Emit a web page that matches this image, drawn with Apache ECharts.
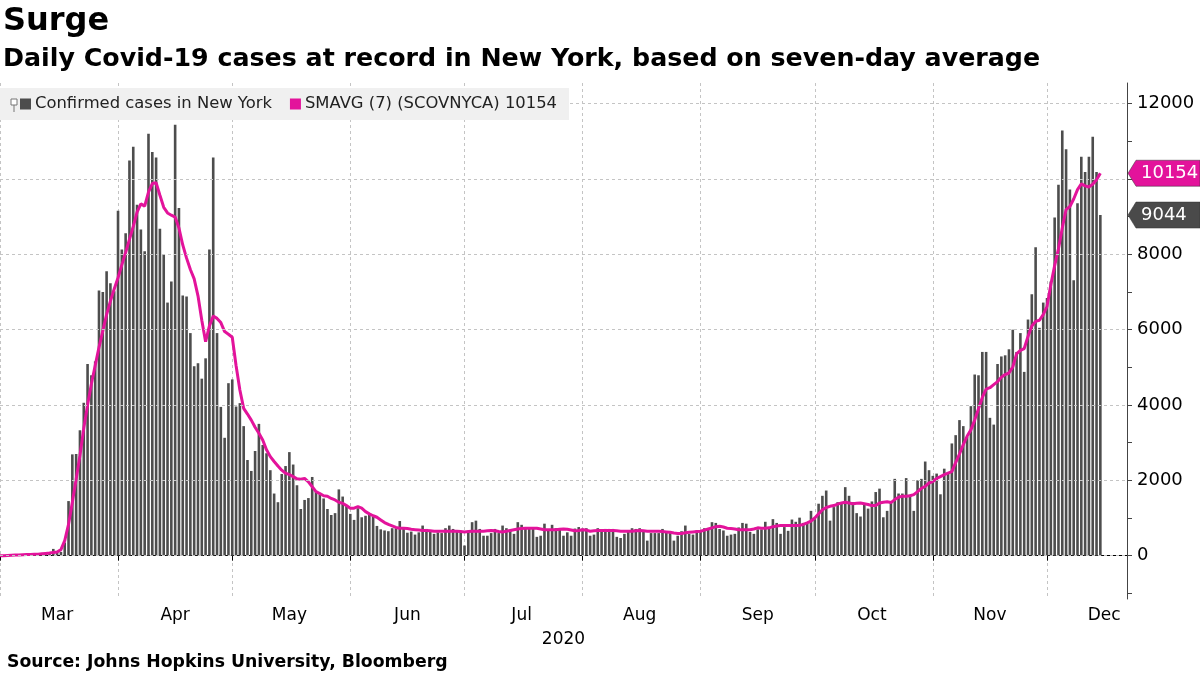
<!DOCTYPE html>
<html>
<head>
<meta charset="utf-8">
<script src="https://cdn.jsdelivr.net/npm/echarts@6/dist/echarts.min.js"></script>
<style>
  html, body { margin: 0; padding: 0; background: #ffffff; }
  #chart { width: 1200px; height: 675px; }
</style>
</head>
<body>
<div id="chart"></div>
<script>
// ---- axis / tick labels ----
const monthNames = ['Mar', 'Apr', 'May', 'Jun', 'Jul', 'Aug', 'Sep', 'Oct', 'Nov', 'Dec'];
const monthDays = [31, 30, 31, 30, 31, 31, 30, 31, 30, 22]; // axis runs Mar 1 .. Dec 22, 2020
const yearLabel = '2020';
const yLabelValues = [0, 2000, 4000, 6000, 8000, 10000, 12000];
const yTickValues = [-1000, 0, 1000, 2000, 3000, 4000, 5000, 6000, 7000, 8000, 9000, 10000, 11000, 12000];

// ---- daily confirmed cases (bars), by month ----
const marCases = [0,0,0,2,5,10,15,20,25,30, 40,60,80,90,180,90,100,350,1450,2690, 2700,3330,4060,5090,4790,5160,7040,7000,7550,7230, 7020];
const aprCases = [9160,8130,8560,10490,10860,9320,8660,8080,11200,10720, 10570,8680,8010,6720,7280,11440,9230,6910,6880,5910, 5030,5110,4700,5240,8130,10570,5910,3950,3130,4580];
const mayCases = [4680,3960,4050,3440,2540,2250,2780,3500,2940,2720, 2270,1650,1420,2170,2380,2750,2420,1870,1240,1480, 1530,2090,1700,1630,1520,1240,1080,1130,1760,1570, 1340];
const junCases = [1110,950,1260,1020,1060,1110,1040,790,700,670, 650,730,730,920,720,610,640,560,620,800, 710,670,580,620,600,730,800,710,670,650];
const julCases = [270,650,890,930,710,530,530,600,710,600, 800,730,670,580,890,820,710,710,710,500, 530,850,690,820,730,710,530,620,530,720, 760];
const augCases = [720,730,530,560,730,690,710,710,710,500, 470,580,670,730,710,730,630,400,600,600, 600,710,650,600,400,530,650,800,580,560, 670];
const sepCases = [670,730,710,890,870,710,670,530,560,580, 750,870,850,630,580,700,700,900,760,970, 870,580,760,660,960,900,1010,870,850,1190];
const octCases = [970,1380,1590,1730,930,1290,1420,1390,1820,1590, 1420,1130,1040,1350,1250,1440,1690,1780,1020,1190, 1440,2040,1650,1650,2060,1620,1190,2000,2040,2500, 2270];
const novCases = [2120,2180,1630,2310,2180,2980,3200,3600,3440,3150, 3970,4810,4790,5410,5410,3660,3480,5090,5290,5320, 5480,6000,5410,5910,4880,6270,6940,8190,6050,6720];
const decCases = [6840,7280,8980,9850,11290,10790,9720,7310,9360,10590, 10190,10590,11120,10190,9044];

// ---- SMAVG (7) line, by month ----
const marAvg = [0,0,5,10,15,20,25,30,30,35, 40,50,60,70,85,100,160,400,830,1420, 2030,2660,3380,4000,4560,5050,5530,5970,6400,6760, 7080];
const aprAvg = [7380,7720,8050,8400,8740,9120,9340,9280,9650,9880, 9900,9570,9250,9100,9040,8990,8700,8250,7900,7600, 7350,6900,6250,5680,6100,6360,6300,6190,5950,5880];
const mayAvg = [5800,5050,4400,3910,3760,3600,3410,3250,3070,2810, 2630,2500,2380,2270,2190,2150,2100,2040,2030,2050, 1960,1830,1700,1650,1590,1580,1520,1480,1420,1390, 1330];
const junAvg = [1260,1260,1300,1260,1170,1110,1060,1020,950,880, 830,790,750,730,730,720,700,690,680,670, 670,660,650,650,650,650,650,650,650,640];
const julAvg = [630,640,650,650,650,650,660,670,660,640, 630,650,670,690,710,720,730,730,730,730, 710,690,690,690,690,700,710,700,680,660, 670];
const augAvg = [690,680,650,660,670,670,670,670,670,660, 650,650,650,650,660,670,660,650,650,650, 650,640,630,620,600,590,590,610,620,630, 640];
const sepAvg = [650,680,710,740,770,780,760,730,720,710, 690,690,690,690,710,740,730,730,740,770, 790,800,800,800,800,800,810,830,870,920];
const octAvg = [1000,1110,1220,1280,1310,1330,1370,1400,1420,1400, 1380,1390,1400,1380,1360,1330,1330,1400,1420,1430, 1410,1490,1550,1580,1580,1590,1620,1700,1790,1840, 1930];
const novAvg = [1970,2050,2100,2150,2190,2230,2470,2700,2950,3170, 3340,3600,3900,4200,4420,4460,4540,4620,4740,4810, 4850,5010,5360,5450,5500,5820,6100,6220,6250,6400];
const decAvg = [6620,7200,7700,8150,8700,9190,9270,9470,9720,9870, 9820,9790,9860,9980,10154];

const lastCases = 9044;
const lastAvg = 10154;

// ---- build the category list (one per day) ----
const categories = [];
const monthOfCat = [];
monthDays.forEach((n, m) => {
  for (let d = 1; d <= n; d++) {
    categories.push('2020-' + String(m + 3).padStart(2, '0') + '-' + String(d).padStart(2, '0'));
    monthOfCat.push(monthNames[m]);
  }
});
const cases = [].concat(marCases, aprCases, mayCases, junCases, julCases, augCases, sepCases, octCases, novCases, decCases);
const avg = [].concat(marAvg, aprAvg, mayAvg, junAvg, julAvg, augAvg, sepAvg, octAvg, novAvg, decAvg);

const FONT = 'DejaVu Sans';
const MAGENTA = '#E3139B';
const BARGREY = '#4d4d4d';
const GRIDC = '#c4c4c4';

const chart = echarts.init(document.getElementById('chart'), null, { renderer: 'canvas' });

const option = {
  animation: false,
  backgroundColor: '#ffffff',
  textStyle: { fontFamily: FONT },
  title: [
    { text: 'Surge', left: 0, top: 4, padding: [2, 3],
      textStyle: { fontFamily: FONT, fontSize: 32, fontWeight: 'bold', color: '#000' } },
    { text: 'Daily Covid-19 cases at record in New York, based on seven-day average', left: 0, top: 45, padding: [2, 3],
      textStyle: { fontFamily: FONT, fontSize: 25.3, fontWeight: 'bold', color: '#000' } }
  ],
  legend: {
    left: 0, top: 88,
    z: 50, zlevel: 1,
    padding: [8, 12, 8, 20],
    backgroundColor: '#f0f0f0',
    itemWidth: 11, itemHeight: 11, itemGap: 18,
    lineStyle: { width: 0, opacity: 0 },
    data: [
      { name: 'Confirmed cases in New York', icon: 'rect', itemStyle: { color: BARGREY } },
      { name: 'SMAVG (7) (SCOVNYCA) ' + lastAvg, icon: 'rect', itemStyle: { color: MAGENTA } }
    ],
    textStyle: { fontFamily: FONT, fontSize: 16.4, color: '#222', padding: [0, 0, 0, -1] },
    selectedMode: false
  },
  grid: { left: 0, right: 73, top: 83, bottom: 76, containLabel: false },
  xAxis: {
    type: 'category',
    data: categories,
    boundaryGap: false,
    axisLine: { show: true, lineStyle: { color: '#000', width: 1 } },
    axisTick: { show: true, length: 5, interval: (i, v) => v.endsWith('-01'), lineStyle: { color: '#000' } },
    axisLabel: {
      interval: (i, v) => v.endsWith('-16'),
      formatter: (v, i) => monthOfCat[i],
      fontFamily: FONT, fontSize: 17, color: '#000', margin: 8
    },
    splitLine: { show: true, interval: (i, v) => v.endsWith('-01'), lineStyle: { color: GRIDC, type: [3, 3], width: 1 } },
    name: yearLabel,
    nameLocation: 'middle',
    nameGap: 32,
    nameTextStyle: { fontFamily: FONT, fontSize: 17, color: '#000' }
  },
  yAxis: {
    type: 'value',
    position: 'right',
    min: -1150,
    max: 12550,
    axisLine: { show: true, lineStyle: { color: '#444', width: 1 } },
    axisTick: { show: true, length: 5, customValues: yTickValues, lineStyle: { color: '#444' } },
    axisLabel: { customValues: yLabelValues, formatter: v => String(v), fontFamily: FONT, fontSize: 18, color: '#000', margin: 10 },
    splitLine: { show: false }
  },
  series: [
    {
      name: 'gridlines',
      type: 'line',
      data: [],
      z: 1,
      silent: true,
      markLine: {
        silent: true,
        symbol: ['none', 'none'],
        label: { show: false },
        lineStyle: { color: GRIDC, type: [3, 3], width: 1 },
        data: yLabelValues.map(v => ({ yAxis: v }))
      }
    },
    {
      name: 'Confirmed cases in New York',
      type: 'bar',
      data: cases,
      barWidth: 2.6,
      z: 2,
      itemStyle: { color: BARGREY }
    },
    {
      name: 'SMAVG (7) (SCOVNYCA) ' + lastAvg,
      type: 'line',
      data: avg,
      z: 3,
      symbol: 'none',
      lineStyle: { color: MAGENTA, width: 3 },
      itemStyle: { color: MAGENTA }
    }
  ]
};
chart.setOption(option);

// value tags on the right axis, positioned through the axis scale
function tag(value, color) {
  const y = chart.convertToPixel({ yAxisIndex: 0 }, value);
  const x0 = chart.convertToPixel({ xAxisIndex: 0 }, categories[categories.length - 1]);
  const h = 13;
  return [
    { type: 'polygon', z: 100, zlevel: 1,
      shape: { points: [[x0 + 1, y], [x0 + 9, y - h], [1200, y - h], [1200, y + h], [x0 + 9, y + h]] },
      style: { fill: color, stroke: '#333', lineWidth: 0.5 } },
    { type: 'text', z: 101, zlevel: 1, x: x0 + 14, y: y,
      style: { text: String(value), fill: '#fff', font: '18px "DejaVu Sans"', textVerticalAlign: 'middle', textAlign: 'left' } }
  ];
}
const legendIcon = [
  { type: 'rect', z: 100, zlevel: 2, shape: { x: 11, y: 99, width: 6, height: 6 }, style: { fill: '#fff', stroke: '#777', lineWidth: 1 } },
  { type: 'line', z: 100, zlevel: 2, shape: { x1: 14, y1: 105, x2: 14, y2: 112 }, style: { stroke: '#777', lineWidth: 1 } }
];
chart.setOption({
  graphic: [].concat(
    tag(lastAvg, MAGENTA),
    tag(lastCases, '#4a4a4a'),
    legendIcon,
    [{ type: 'text', z: 100, left: 7, top: 654,
       style: { text: 'Source: Johns Hopkins University, Bloomberg', fill: '#000', font: 'bold 17.3px "DejaVu Sans"' } }]
  )
});
</script>
</body>
</html>
